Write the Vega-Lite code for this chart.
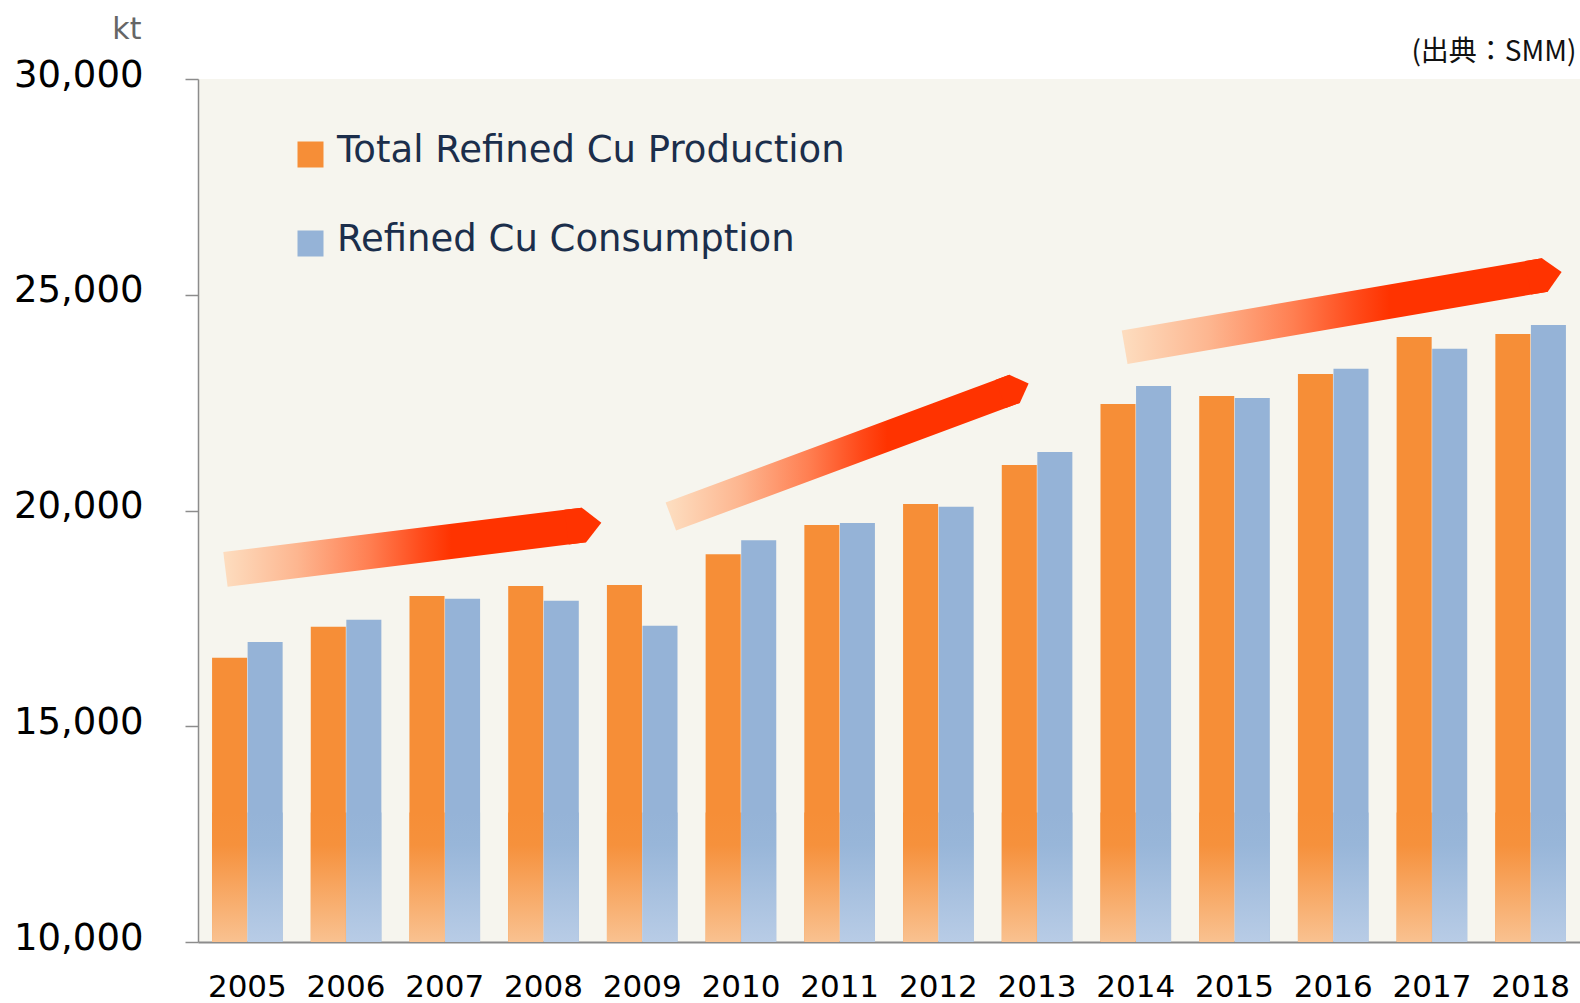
{
  "$schema": "https://vega.github.io/schema/vega-lite/v6.json",
  "width": 1382,
  "height": 863,
  "autosize": {"type": "none"},
  "padding": {"left": 198, "top": 79, "right": 0, "bottom": 61},
  "background": "#FFFFFF",
  "config": {
    "view": {"fill": "#F6F5EE", "stroke": null},
    "font": "DejaVu Sans"
  },
  "datasets": {
    "bars": [
      {"year": "2005", "series": "Total Refined Cu Production", "kt": 16589},
      {"year": "2005", "series": "Refined Cu Consumption", "kt": 16952},
      {"year": "2006", "series": "Total Refined Cu Production", "kt": 17307},
      {"year": "2006", "series": "Refined Cu Consumption", "kt": 17469},
      {"year": "2007", "series": "Total Refined Cu Production", "kt": 18019},
      {"year": "2007", "series": "Refined Cu Consumption", "kt": 17956},
      {"year": "2008", "series": "Total Refined Cu Production", "kt": 18250},
      {"year": "2008", "series": "Refined Cu Consumption", "kt": 17910},
      {"year": "2009", "series": "Total Refined Cu Production", "kt": 18274},
      {"year": "2009", "series": "Refined Cu Consumption", "kt": 17328},
      {"year": "2010", "series": "Total Refined Cu Production", "kt": 18985},
      {"year": "2010", "series": "Refined Cu Consumption", "kt": 19311},
      {"year": "2011", "series": "Total Refined Cu Production", "kt": 19664},
      {"year": "2011", "series": "Refined Cu Consumption", "kt": 19710},
      {"year": "2012", "series": "Total Refined Cu Production", "kt": 20151},
      {"year": "2012", "series": "Refined Cu Consumption", "kt": 20088},
      {"year": "2013", "series": "Total Refined Cu Production", "kt": 21054},
      {"year": "2013", "series": "Refined Cu Consumption", "kt": 21356},
      {"year": "2014", "series": "Total Refined Cu Production", "kt": 22468},
      {"year": "2014", "series": "Refined Cu Consumption", "kt": 22885},
      {"year": "2015", "series": "Total Refined Cu Production", "kt": 22654},
      {"year": "2015", "series": "Refined Cu Consumption", "kt": 22607},
      {"year": "2016", "series": "Total Refined Cu Production", "kt": 23163},
      {"year": "2016", "series": "Refined Cu Consumption", "kt": 23286},
      {"year": "2017", "series": "Total Refined Cu Production", "kt": 24021},
      {"year": "2017", "series": "Refined Cu Consumption", "kt": 23750},
      {"year": "2018", "series": "Total Refined Cu Production", "kt": 24090},
      {"year": "2018", "series": "Refined Cu Consumption", "kt": 24299}
    ],
    "arrows": [
      {"arrow": "A", "part": "start", "pos": 2004.778, "kt": 18633},
      {"arrow": "A", "part": "end", "pos": 2008.41, "kt": 19664},
      {"arrow": "B", "part": "start", "pos": 2009.29, "kt": 19861},
      {"arrow": "B", "part": "end", "pos": 2012.772, "kt": 22820},
      {"arrow": "C", "part": "start", "pos": 2013.887, "kt": 23784},
      {"arrow": "C", "part": "end", "pos": 2018.144, "kt": 25458}
    ]
  },
  "layer": [
    {
      "data": {"name": "bars"},
      "encoding": {
        "x": {
          "field": "year",
          "type": "ordinal",
          "scale": {"paddingInner": 0.285, "paddingOuter": 0.1425},
          "axis": {
            "title": null,
            "labelAngle": 0,
            "labelFontSize": 31,
            "labelColor": "#000000",
            "labelFont": "DejaVu Sans",
            "ticks": false,
            "tickSize": 0,
            "labelPadding": 54,
            "labelBaseline": "alphabetic",
            "domainColor": "#8C8C8C",
            "domainWidth": 2
          }
        },
        "xOffset": {
          "field": "series",
          "type": "nominal",
          "scale": {"domain": ["Total Refined Cu Production", "Refined Cu Consumption"], "paddingInner": 0.015}
        },
        "y": {
          "field": "kt",
          "type": "quantitative",
          "scale": {"domain": [10000, 30000], "nice": false, "zero": false},
          "axis": {
            "values": [10000, 15000, 20000, 25000, 30000],
            "format": ",.0f",
            "grid": false,
            "labelFontSize": 37,
            "labelColor": "#000000",
            "labelFont": "DejaVu Sans",
            "labelPadding": 42,
            "labelOffset": -4,
            "tickSize": 13,
            "tickColor": "#8C8C8C",
            "tickWidth": 1.5,
            "domainColor": "#8C8C8C",
            "domainWidth": 1.5,
            "title": "kt",
            "titleAngle": 0,
            "titleFont": "DejaVu Sans",
            "titleFontSize": 30,
            "titleFontWeight": "normal",
            "titleColor": "#666666",
            "titleAlign": "right",
            "titleBaseline": "alphabetic",
            "titleX": -57,
            "titleY": -41
          }
        }
      },
      "layer": [
        {
          "mark": {"type": "bar"},
          "encoding": {
            "y2": {"datum": 10000},
            "color": {
              "field": "series",
              "type": "nominal",
              "scale": {
                "domain": ["Total Refined Cu Production", "Refined Cu Consumption"],
                "range": ["#F68E37", "#95B3D7"]
              },
              "legend": {
                "orient": "none",
                "legendX": 94,
                "legendY": 57,
                "title": null,
                "direction": "vertical",
                "symbolType": "square",
                "symbolSize": 676,
                "symbolStrokeWidth": 0,
                "symbolOpacity": 1,
                "labelFont": "DejaVu Sans",
                "labelFontSize": 37,
                "labelColor": "#1B2E4B",
                "labelOffset": 8,
                "labelLimit": 800,
                "rowPadding": 51,
                "labelBaseline": "middle",
                "encode": {"labels": {"update": {"dy": {"value": -4}}}}
              }
            }
          }
        },
        {
          "transform": [{"filter": "datum.series === 'Total Refined Cu Production'"}],
          "mark": {
            "type": "bar",
            "fill": {
              "gradient": "linear", "x1": 0, "y1": 0, "x2": 0, "y2": 1,
              "stops": [
                {"offset": 0, "color": "#F68E37"},
                {"offset": 0.25, "color": "#F6913C"},
                {"offset": 1, "color": "#F9C190"}
              ]
            }
          },
          "encoding": {"y": {"datum": 13000}, "y2": {"datum": 10000}}
        },
        {
          "transform": [{"filter": "datum.series === 'Refined Cu Consumption'"}],
          "mark": {
            "type": "bar",
            "fill": {
              "gradient": "linear", "x1": 0, "y1": 0, "x2": 0, "y2": 1,
              "stops": [
                {"offset": 0, "color": "#95B3D7"},
                {"offset": 0.25, "color": "#98B6D9"},
                {"offset": 1, "color": "#B8CCE6"}
              ]
            }
          },
          "encoding": {"y": {"datum": 13000}, "y2": {"datum": 10000}}
        }
      ]
    },
    {
      "data": {"name": "arrows"},
      "encoding": {
        "x": {
          "field": "pos",
          "type": "quantitative",
          "scale": {"domain": [2004.5, 2018.5], "nice": false, "zero": false},
          "axis": {
            "orient": "top",
            "labels": false,
            "ticks": false,
            "domain": false,
            "grid": false,
            "title": "(出典：SMM)",
            "titleFont": "Noto Sans CJK JP",
            "titleFontSize": 28,
            "titleFontWeight": "normal",
            "titleColor": "#111111",
            "titleAlign": "right",
            "titleAnchor": "end",
            "titleBaseline": "alphabetic",
            "titleX": 1378,
            "titleY": -19
          }
        },
        "y": {
          "field": "kt",
          "type": "quantitative",
          "scale": {"domain": [10000, 30000], "nice": false, "zero": false}
        }
      },
      "layer": [
        {
          "transform": [{"filter": "datum.arrow === 'A'"}],
          "mark": {"type": "line", "strokeWidth": 35, "strokeCap": "butt",
            "stroke": {"gradient": "linear", "x1": 0, "y1": 0, "x2": 1, "y2": 0,
              "stops": [
                {"offset": 0, "color": "#FDDCBE"},
                {"offset": 0.2, "color": "#FDB690"},
                {"offset": 0.4, "color": "#FF7F52"},
                {"offset": 0.55, "color": "#FF4A1A"},
                {"offset": 0.63, "color": "#FF3300"},
                {"offset": 1, "color": "#FF3300"}
              ]}},
          "encoding": {}
        },
        {
          "transform": [{"filter": "datum.arrow === 'B'"}],
          "mark": {"type": "line", "strokeWidth": 30, "strokeCap": "butt",
            "stroke": {"gradient": "linear", "x1": 0, "y1": 0, "x2": 1, "y2": 0,
              "stops": [
                {"offset": 0, "color": "#FDDCBE"},
                {"offset": 0.2, "color": "#FDB690"},
                {"offset": 0.4, "color": "#FF7F52"},
                {"offset": 0.55, "color": "#FF4A1A"},
                {"offset": 0.63, "color": "#FF3300"},
                {"offset": 1, "color": "#FF3300"}
              ]}},
          "encoding": {}
        },
        {
          "transform": [{"filter": "datum.arrow === 'C'"}],
          "mark": {"type": "line", "strokeWidth": 34, "strokeCap": "butt",
            "stroke": {"gradient": "linear", "x1": 0, "y1": 0, "x2": 1, "y2": 0,
              "stops": [
                {"offset": 0, "color": "#FDDCBE"},
                {"offset": 0.2, "color": "#FDB690"},
                {"offset": 0.4, "color": "#FF7F52"},
                {"offset": 0.55, "color": "#FF4A1A"},
                {"offset": 0.63, "color": "#FF3300"},
                {"offset": 1, "color": "#FF3300"}
              ]}},
          "encoding": {}
        },
        {
          "transform": [{"filter": "datum.arrow === 'A' && datum.part === 'end'"}],
          "mark": {"type": "point", "shape": "M -1 -1 L 0 -1 L 1 0 L 0 1 L -1 1 Z", "filled": true, "color": "#FF3300", "opacity": 1, "strokeWidth": 0, "size": 1225, "angle": -7.1}
        },
        {
          "transform": [{"filter": "datum.arrow === 'B' && datum.part === 'end'"}],
          "mark": {"type": "point", "shape": "M -1 -1 L 0 -1 L 1 0 L 0 1 L -1 1 Z", "filled": true, "color": "#FF3300", "opacity": 1, "strokeWidth": 0, "size": 900, "angle": -20.4}
        },
        {
          "transform": [{"filter": "datum.arrow === 'C' && datum.part === 'end'"}],
          "mark": {"type": "point", "shape": "M -1 -1 L 0 -1 L 1 0 L 0 1 L -1 1 Z", "filled": true, "color": "#FF3300", "opacity": 1, "strokeWidth": 0, "size": 1156, "angle": -9.75}
        }
      ]
    }
  ],
  "resolve": {"scale": {"x": "independent"}, "axis": {"x": "independent"}}
}
